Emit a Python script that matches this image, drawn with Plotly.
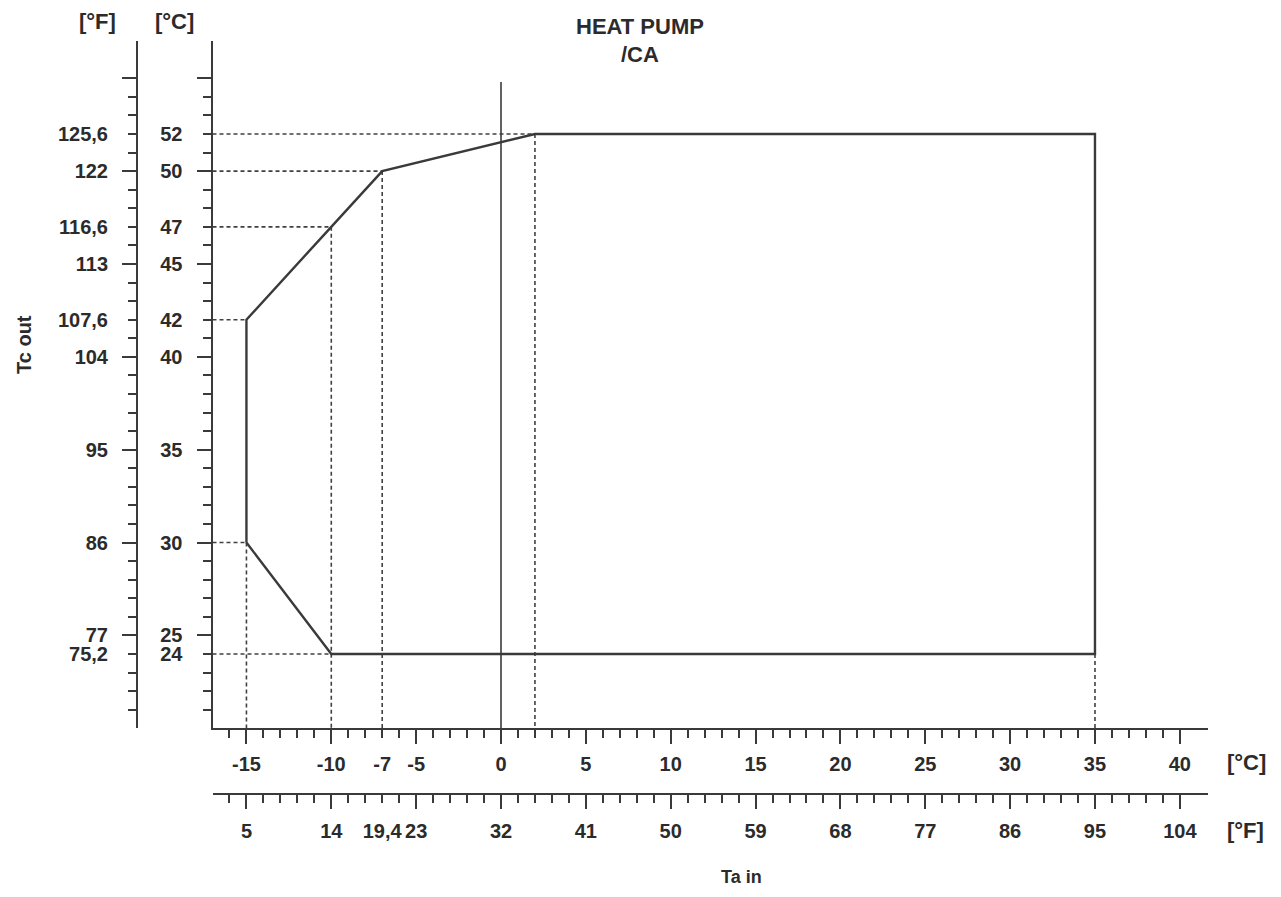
import plotly.graph_objects as go

# ---------------- data ----------------
# operating envelope (Ta in °C, Tc out °C)
env_ta = [-15, -15, -10, -7, 2, 35, 35, -10, -15]
env_tc = [30, 42, 47, 50, 52, 52, 24, 24, 30]

# horizontal guide lines: (Tc level, Ta end)
hguide_tc = [52, 50, 47, 42, 30, 24]
hguide_ta = [2, -7, -10, -15, -15, -10]
# vertical guide lines: (Ta position, Tc start)
vguide_ta = [-15, -10, -7, 2, 35]
vguide_tc = [30, 47, 50, 52, 24]

# 0 °C reference line
zero_ta = [0, 0]
zero_tc = [20, 54.8]

# axis ranges (°C)
x_range_c = [-17, 41.66]
y_range_c = [20, 57]

# tick labels
x_c_labels = [-15, -10, -7, -5, 0, 5, 10, 15, 20, 25, 30, 35, 40]
x_f_text = ["5", "14", "19,4", "23", "32", "41", "50", "59", "68", "77", "86", "95", "104"]
y_c_labels = [24, 25, 30, 35, 40, 42, 45, 47, 50, 52]
y_f_text = ["75,2", "77", "86", "95", "104", "107,6", "113", "116,6", "122", "125,6"]

# tick marks (°C)
x_major = list(range(-15, 41, 5))
x_minor = [v for v in range(-16, 41) if v % 5 != 0]
y_major = list(range(25, 56, 5))
y_minor = [v for v in range(21, 56) if v % 5 != 0]


def c2f(c):
    return c * 1.8 + 32


# ---------------- styling ----------------
FONT = "Liberation Sans, Arial, sans-serif"
TXT = "#2b2b2b"
LINE = "#3a3a3a"
OFF = 8                      # page body margin
W, H = 1281 - 2 * OFF, 897 - 2 * OFF

X0, X1 = 212.5 - OFF, 1208.0 - OFF      # pixel extent of plot area
Y_TOP, Y_BOT = 41.1 - OFF, 728.3 - OFF
XF_LINE = 793.5 - OFF                   # °F x-axis line
YF_LINE = 137.0 - OFF                   # °F y-axis line

tickfont = dict(family=FONT, size=20, color=TXT, weight="bold")

fig = go.Figure()

# guides (dashed)
gx, gy = [], []
for tc, ta in zip(hguide_tc, hguide_ta):
    gx += [x_range_c[0], ta, None]
    gy += [tc, tc, None]
for ta, tc in zip(vguide_ta, vguide_tc):
    gx += [ta, ta, None]
    gy += [tc, y_range_c[0], None]
fig.add_trace(go.Scatter(x=gx, y=gy, mode="lines",
                         line=dict(color="#404040", width=1.6, dash="4px,3px"),
                         hoverinfo="skip", showlegend=False))

# 0 °C line
fig.add_trace(go.Scatter(x=zero_ta, y=zero_tc, mode="lines",
                         line=dict(color=LINE, width=1.6),
                         hoverinfo="skip", showlegend=False))

# envelope
fig.add_trace(go.Scatter(x=env_ta, y=env_tc, mode="lines",
                         line=dict(color=LINE, width=2.4),
                         hoverinfo="skip", showlegend=False))

# dummy traces so overlay axes are drawn
for xa, ya, xv, yv in [("x2", "y2", 0, 30), ("x3", "y3", 32, 100), ("x4", "y4", 32, 100)]:
    fig.add_trace(go.Scatter(x=[xv], y=[yv], xaxis=xa, yaxis=ya, mode="markers",
                             marker=dict(opacity=0, size=1), hoverinfo="skip",
                             showlegend=False))

dom_x = [X0 / W, X1 / W]
dom_y = [1 - Y_BOT / H, 1 - Y_TOP / H]
f_xrange = [c2f(v) for v in x_range_c]
f_yrange = [c2f(v) for v in y_range_c]

common = dict(showgrid=False, zeroline=False, fixedrange=True)

tick_axis = dict(showline=True, linecolor=LINE, linewidth=2, ticks="outside",
                 ticklen=14, tickwidth=1.5, tickcolor=LINE, showticklabels=False,
                 tickmode="array", **common)
label_axis = dict(showline=False, ticks="", tickmode="array", tickfont=tickfont, **common)

fig.update_layout(
    width=W, height=H,
    margin=dict(l=0, r=0, t=0, b=0),
    paper_bgcolor="white", plot_bgcolor="white",
    showlegend=False,
    xaxis=dict(domain=dom_x, range=x_range_c, anchor="y", tickvals=x_major,
               minor=dict(ticks="outside", tickmode="array", tickvals=x_minor,
                          ticklen=8, tickwidth=1.5, tickcolor=LINE),
               **tick_axis),
    xaxis2=dict(overlaying="x", anchor="y", range=x_range_c, tickvals=x_c_labels,
                ticktext=[str(v) for v in x_c_labels], ticklabelstandoff=22, **label_axis),
    xaxis3=dict(overlaying="x", anchor="free", position=1 - XF_LINE / H, range=f_xrange,
                tickvals=[c2f(v) for v in x_major],
                minor=dict(ticks="outside", tickmode="array",
                           tickvals=[c2f(v) for v in x_minor],
                           ticklen=8, tickwidth=1.5, tickcolor=LINE),
                **tick_axis),
    xaxis4=dict(overlaying="x", anchor="free", position=1 - XF_LINE / H, range=f_xrange,
                tickvals=[c2f(v) for v in x_c_labels], ticktext=x_f_text,
                ticklabelstandoff=23, **label_axis),
    yaxis=dict(domain=dom_y, range=y_range_c, anchor="x", tickvals=y_major,
               minor=dict(ticks="outside", tickmode="array", tickvals=y_minor,
                          ticklen=8, tickwidth=1.5, tickcolor=LINE),
               **tick_axis),
    yaxis2=dict(overlaying="y", anchor="x", range=y_range_c, tickvals=y_c_labels,
                ticktext=[str(v) for v in y_c_labels], ticklabelstandoff=29, **label_axis),
    yaxis3=dict(overlaying="y", anchor="free", position=YF_LINE / W, range=f_yrange,
                tickvals=[c2f(v) for v in y_major],
                minor=dict(ticks="outside", tickmode="array",
                           tickvals=[c2f(v) for v in y_minor],
                           ticklen=8, tickwidth=1.5, tickcolor=LINE),
                **tick_axis),
    yaxis4=dict(overlaying="y", anchor="free", position=YF_LINE / W, range=f_yrange,
                tickvals=[c2f(v) for v in y_c_labels], ticktext=y_f_text,
                ticklabelstandoff=29, **label_axis),
)

def ann(text, x, y, size, angle=0):
    fig.add_annotation(text=text, x=(x - OFF) / W, y=1 - (y - OFF) / H,
                       xref="paper", yref="paper",
                       showarrow=False, textangle=angle, xanchor="center", yanchor="middle",
                       font=dict(family=FONT, size=size, color=TXT, weight="bold"))

ann("HEAT PUMP", 640, 26, 22)
ann("/CA", 640, 55, 22)
ann("[°F]", 97, 22, 22)
ann("[°C]", 174, 22, 22)
ann("[°C]", 1246, 762, 22)
ann("[°F]", 1245, 830, 22)
ann("Tc out", 24, 345, 20, angle=-90)
ann("Ta in", 741, 877, 18)

fig.write_html("out.html")
